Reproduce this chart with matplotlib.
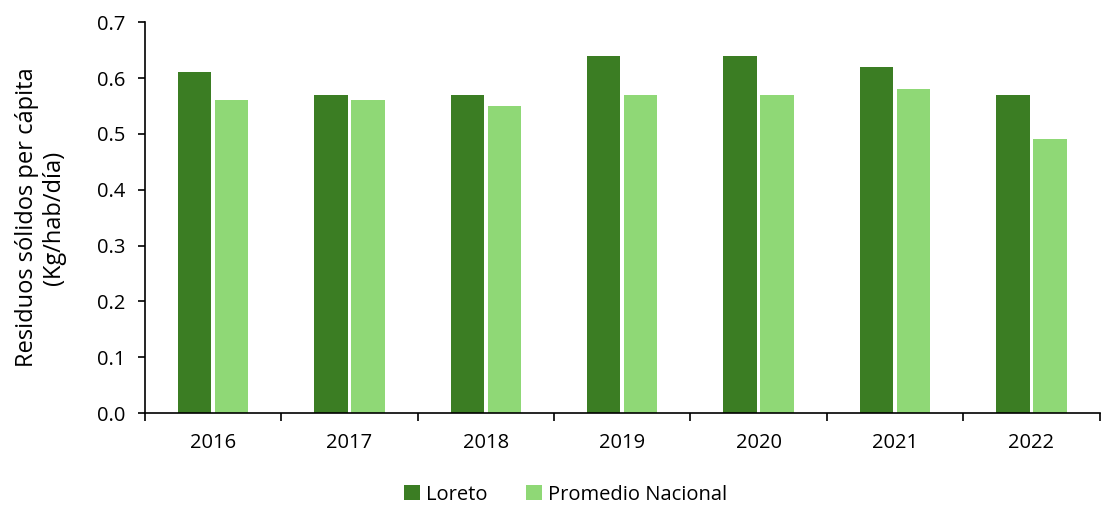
import matplotlib.pyplot as plt
import numpy as np

years = ["2016", "2017", "2018", "2019", "2020", "2021", "2022"]
loreto = [0.61, 0.57, 0.57, 0.64, 0.64, 0.62, 0.57]
promedioNacional = [0.56, 0.56, 0.55, 0.57, 0.57, 0.58, 0.49]

darkGreen = "#3B7D23"
lightGreen = "#8FD876"

plt.rcParams['font.family'] = ['Open Sans', 'DejaVu Sans']

fig = plt.figure(figsize=(11.14, 5.05), dpi=100)
ax = fig.add_axes([0.130, 0.182, 0.857, 0.774])

x = np.arange(len(years))
barWidth = 0.245
gap = 0.026

ax.bar(x - (barWidth + gap) / 2, loreto, barWidth, color=darkGreen, label="Loreto")
ax.bar(x + (barWidth + gap) / 2, promedioNacional, barWidth, color=lightGreen, label="Promedio Nacional")

ax.set_xlim(-0.5, len(years) - 0.5)
ax.set_ylim(0, 0.7)
ax.set_yticks(np.arange(0, 0.71, 0.1))
ax.set_yticklabels([f"{v:.1f}" for v in np.arange(0, 0.71, 0.1)], fontsize=14.5)

# Ticks entre categorías
ax.set_xticks(np.arange(-0.5, len(years), 1.0))
ax.set_xticklabels([])
ax.set_xticks(x, minor=True)
ax.set_xticklabels(years, minor=True, fontsize=14.5)
ax.tick_params(axis='x', which='major', length=6, width=1.2, direction='out')
ax.tick_params(axis='x', which='minor', length=0, pad=14)
ax.tick_params(axis='y', length=5, width=1.2, direction='out', pad=9)

for side in ["top", "right"]:
    ax.spines[side].set_visible(False)
ax.spines["left"].set_linewidth(1.2)
ax.spines["bottom"].set_linewidth(1.2)

ax.set_ylabel("Residuos sólidos per cápita\n(Kg/hab/día)", fontsize=17, labelpad=22)

fig.legend(loc="lower center", bbox_to_anchor=(0.508, -0.035), ncol=2, frameon=False,
           fontsize=14.5, handlelength=0.8, handleheight=0.8, handletextpad=0.3, columnspacing=1.9)

fig.savefig("out.png", dpi=100)
